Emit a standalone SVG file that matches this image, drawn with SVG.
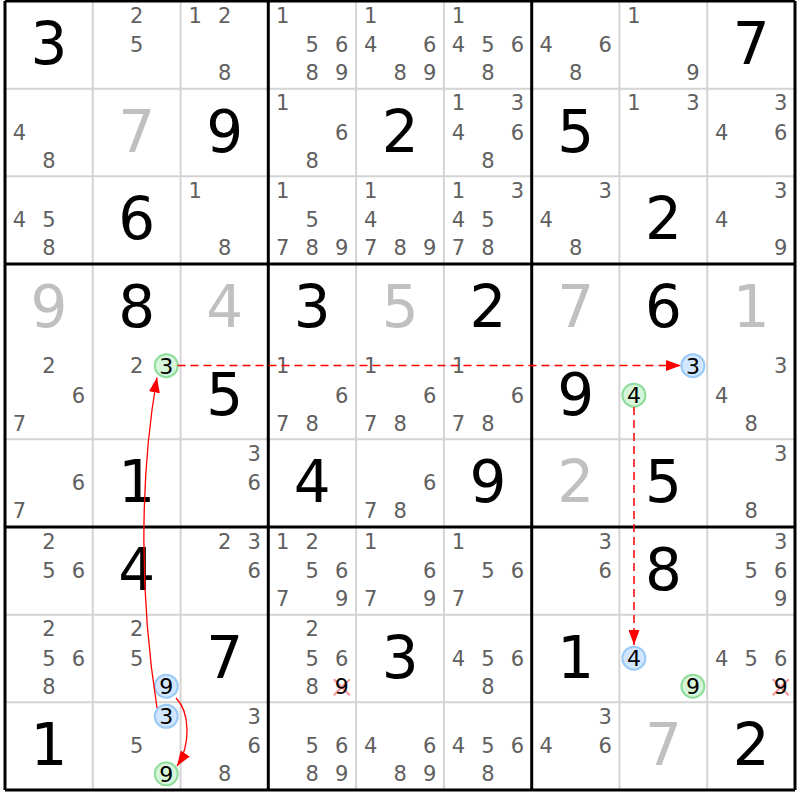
<svg xmlns="http://www.w3.org/2000/svg" width="800" height="800" viewBox="0 0 800 800">
<style>
text{font-family:"DejaVu Sans","Liberation Sans",sans-serif;text-anchor:middle}
.g{font-size:58px;fill:#000}
.s{font-size:58px;fill:#c0c0c0}
.c{font-size:21px;fill:#606060}
.k{font-size:22px;fill:#000}
.thin{stroke:#d4d4d4;stroke-width:2}
.thick{stroke:#000;stroke-width:3}
.cg{fill:#d6f5d9;stroke:#8fdc9c;stroke-width:2}
.cb{fill:#d2e7ff;stroke:#99c9f5;stroke-width:2}
.x{stroke:#f08080;stroke-width:2.2;stroke-opacity:0.8}
.dash{fill:none;stroke:#ff0000;stroke-width:1.5;stroke-dasharray:8 5}
.sol{fill:none;stroke:#ff0000;stroke-width:1.3}
</style>
<defs>
<marker id="ah" viewBox="0 0 10 10" refX="10" refY="5" markerWidth="15" markerHeight="11" markerUnits="userSpaceOnUse" orient="auto" preserveAspectRatio="none">
<path d="M0,0 L10,5 L0,10 z" fill="#ff0000"/>
</marker>
</defs>
<rect x="0" y="0" width="800" height="800" fill="#fff"/>
<g id="grid">
<path class="thin" d="M92.8,1V790M180.6,1V790M356.1,1V790M443.9,1V790M619.4,1V790M707.2,1V790M5,88.7H795M5,176.3H795M5,439.3H795M5,527H795M5,702.3H795M5,614.7H795"/>
<path class="thick" fill="none" d="M5,1V790M268.3,1V790M531.7,1V790M795,1V790M5,1H795M5,264H795M5,527H795M5,790H795"/>
</g>
<g id="cells">
<!-- row 1 -->
<g id="r1c1" transform="translate(5,1)"><text class="g" x="44" y="63">3</text></g>
<g id="r1c2" transform="translate(92.8,1)"><text class="c" x="44" y="21.5">2</text><text class="c" x="44" y="51">5</text></g>
<g id="r1c3" transform="translate(180.6,1)"><text class="c" x="14.5" y="21.5">1</text><text class="c" x="44" y="21.5">2</text><text class="c" x="44" y="79">8</text></g>
<g id="r1c4" transform="translate(268.3,1)"><text class="c" x="14.5" y="21.5">1</text><text class="c" x="44" y="51">5</text><text class="c" x="73.5" y="51">6</text><text class="c" x="44" y="79">8</text><text class="c" x="73.5" y="79">9</text></g>
<g id="r1c5" transform="translate(356.1,1)"><text class="c" x="14.5" y="21.5">1</text><text class="c" x="14.5" y="51">4</text><text class="c" x="73.5" y="51">6</text><text class="c" x="44" y="79">8</text><text class="c" x="73.5" y="79">9</text></g>
<g id="r1c6" transform="translate(443.9,1)"><text class="c" x="14.5" y="21.5">1</text><text class="c" x="14.5" y="51">4</text><text class="c" x="44" y="51">5</text><text class="c" x="73.5" y="51">6</text><text class="c" x="44" y="79">8</text></g>
<g id="r1c7" transform="translate(531.7,1)"><text class="c" x="14.5" y="51">4</text><text class="c" x="73.5" y="51">6</text><text class="c" x="44" y="79">8</text></g>
<g id="r1c8" transform="translate(619.4,1)"><text class="c" x="14.5" y="21.5">1</text><text class="c" x="73.5" y="79">9</text></g>
<g id="r1c9" transform="translate(707.2,1)"><text class="g" x="44" y="63">7</text></g>
<!-- row 2 -->
<g id="r2c1" transform="translate(5,88.7)"><text class="c" x="14.5" y="51">4</text><text class="c" x="44" y="79">8</text></g>
<g id="r2c2" transform="translate(92.8,88.7)"><text class="s" x="44" y="63">7</text></g>
<g id="r2c3" transform="translate(180.6,88.7)"><text class="g" x="44" y="63">9</text></g>
<g id="r2c4" transform="translate(268.3,88.7)"><text class="c" x="14.5" y="21.5">1</text><text class="c" x="73.5" y="51">6</text><text class="c" x="44" y="79">8</text></g>
<g id="r2c5" transform="translate(356.1,88.7)"><text class="g" x="44" y="63">2</text></g>
<g id="r2c6" transform="translate(443.9,88.7)"><text class="c" x="14.5" y="21.5">1</text><text class="c" x="73.5" y="21.5">3</text><text class="c" x="14.5" y="51">4</text><text class="c" x="73.5" y="51">6</text><text class="c" x="44" y="79">8</text></g>
<g id="r2c7" transform="translate(531.7,88.7)"><text class="g" x="44" y="63">5</text></g>
<g id="r2c8" transform="translate(619.4,88.7)"><text class="c" x="14.5" y="21.5">1</text><text class="c" x="73.5" y="21.5">3</text></g>
<g id="r2c9" transform="translate(707.2,88.7)"><text class="c" x="73.5" y="21.5">3</text><text class="c" x="14.5" y="51">4</text><text class="c" x="73.5" y="51">6</text></g>
<!-- row 3 -->
<g id="r3c1" transform="translate(5,176.3)"><text class="c" x="14.5" y="51">4</text><text class="c" x="44" y="51">5</text><text class="c" x="44" y="79">8</text></g>
<g id="r3c2" transform="translate(92.8,176.3)"><text class="g" x="44" y="63">6</text></g>
<g id="r3c3" transform="translate(180.6,176.3)"><text class="c" x="14.5" y="21.5">1</text><text class="c" x="44" y="79">8</text></g>
<g id="r3c4" transform="translate(268.3,176.3)"><text class="c" x="14.5" y="21.5">1</text><text class="c" x="44" y="51">5</text><text class="c" x="14.5" y="79">7</text><text class="c" x="44" y="79">8</text><text class="c" x="73.5" y="79">9</text></g>
<g id="r3c5" transform="translate(356.1,176.3)"><text class="c" x="14.5" y="21.5">1</text><text class="c" x="14.5" y="51">4</text><text class="c" x="14.5" y="79">7</text><text class="c" x="44" y="79">8</text><text class="c" x="73.5" y="79">9</text></g>
<g id="r3c6" transform="translate(443.9,176.3)"><text class="c" x="14.5" y="21.5">1</text><text class="c" x="73.5" y="21.5">3</text><text class="c" x="14.5" y="51">4</text><text class="c" x="44" y="51">5</text><text class="c" x="14.5" y="79">7</text><text class="c" x="44" y="79">8</text></g>
<g id="r3c7" transform="translate(531.7,176.3)"><text class="c" x="73.5" y="21.5">3</text><text class="c" x="14.5" y="51">4</text><text class="c" x="44" y="79">8</text></g>
<g id="r3c8" transform="translate(619.4,176.3)"><text class="g" x="44" y="63">2</text></g>
<g id="r3c9" transform="translate(707.2,176.3)"><text class="c" x="73.5" y="21.5">3</text><text class="c" x="14.5" y="51">4</text><text class="c" x="73.5" y="79">9</text></g>
<!-- row 4 -->
<g id="r4c1" transform="translate(5,264)"><text class="s" x="44" y="63">9</text></g>
<g id="r4c2" transform="translate(92.8,264)"><text class="g" x="44" y="63">8</text></g>
<g id="r4c3" transform="translate(180.6,264)"><text class="s" x="44" y="63">4</text></g>
<g id="r4c4" transform="translate(268.3,264)"><text class="g" x="44" y="63">3</text></g>
<g id="r4c5" transform="translate(356.1,264)"><text class="s" x="44" y="63">5</text></g>
<g id="r4c6" transform="translate(443.9,264)"><text class="g" x="44" y="63">2</text></g>
<g id="r4c7" transform="translate(531.7,264)"><text class="s" x="44" y="63">7</text></g>
<g id="r4c8" transform="translate(619.4,264)"><text class="g" x="44" y="63">6</text></g>
<g id="r4c9" transform="translate(707.2,264)"><text class="s" x="44" y="63">1</text></g>
<!-- row 5 -->
<g id="r5c1" transform="translate(5,351.7)"><text class="c" x="44" y="21.5">2</text><text class="c" x="73.5" y="51">6</text><text class="c" x="14.5" y="79">7</text></g>
<g id="r5c2" transform="translate(92.8,351.7)"><text class="c" x="44" y="21.5">2</text><circle class="cg" cx="73.5" cy="14" r="11.5"/><text class="k" x="73.5" y="22">3</text></g>
<g id="r5c3" transform="translate(180.6,351.7)"><text class="g" x="44" y="63">5</text></g>
<g id="r5c4" transform="translate(268.3,351.7)"><text class="c" x="14.5" y="21.5">1</text><text class="c" x="73.5" y="51">6</text><text class="c" x="14.5" y="79">7</text><text class="c" x="44" y="79">8</text></g>
<g id="r5c5" transform="translate(356.1,351.7)"><text class="c" x="14.5" y="21.5">1</text><text class="c" x="73.5" y="51">6</text><text class="c" x="14.5" y="79">7</text><text class="c" x="44" y="79">8</text></g>
<g id="r5c6" transform="translate(443.9,351.7)"><text class="c" x="14.5" y="21.5">1</text><text class="c" x="73.5" y="51">6</text><text class="c" x="14.5" y="79">7</text><text class="c" x="44" y="79">8</text></g>
<g id="r5c7" transform="translate(531.7,351.7)"><text class="g" x="44" y="63">9</text></g>
<g id="r5c8" transform="translate(619.4,351.7)"><circle class="cb" cx="73.5" cy="14" r="11.5"/><text class="k" x="73.5" y="22">3</text><circle class="cg" cx="14.5" cy="43.5" r="11.5"/><text class="k" x="14.5" y="51.5">4</text></g>
<g id="r5c9" transform="translate(707.2,351.7)"><text class="c" x="73.5" y="21.5">3</text><text class="c" x="14.5" y="51">4</text><text class="c" x="44" y="79">8</text></g>
<!-- row 6 -->
<g id="r6c1" transform="translate(5,439.3)"><text class="c" x="73.5" y="51">6</text><text class="c" x="14.5" y="79">7</text></g>
<g id="r6c2" transform="translate(92.8,439.3)"><text class="g" x="44" y="63">1</text></g>
<g id="r6c3" transform="translate(180.6,439.3)"><text class="c" x="73.5" y="21.5">3</text><text class="c" x="73.5" y="51">6</text></g>
<g id="r6c4" transform="translate(268.3,439.3)"><text class="g" x="44" y="63">4</text></g>
<g id="r6c5" transform="translate(356.1,439.3)"><text class="c" x="73.5" y="51">6</text><text class="c" x="14.5" y="79">7</text><text class="c" x="44" y="79">8</text></g>
<g id="r6c6" transform="translate(443.9,439.3)"><text class="g" x="44" y="63">9</text></g>
<g id="r6c7" transform="translate(531.7,439.3)"><text class="s" x="44" y="63">2</text></g>
<g id="r6c8" transform="translate(619.4,439.3)"><text class="g" x="44" y="63">5</text></g>
<g id="r6c9" transform="translate(707.2,439.3)"><text class="c" x="73.5" y="21.5">3</text><text class="c" x="44" y="79">8</text></g>
<!-- row 7 -->
<g id="r7c1" transform="translate(5,527)"><text class="c" x="44" y="21.5">2</text><text class="c" x="44" y="51">5</text><text class="c" x="73.5" y="51">6</text></g>
<g id="r7c2" transform="translate(92.8,527)"><text class="g" x="44" y="63">4</text></g>
<g id="r7c3" transform="translate(180.6,527)"><text class="c" x="44" y="21.5">2</text><text class="c" x="73.5" y="21.5">3</text><text class="c" x="73.5" y="51">6</text></g>
<g id="r7c4" transform="translate(268.3,527)"><text class="c" x="14.5" y="21.5">1</text><text class="c" x="44" y="21.5">2</text><text class="c" x="44" y="51">5</text><text class="c" x="73.5" y="51">6</text><text class="c" x="14.5" y="79">7</text><text class="c" x="73.5" y="79">9</text></g>
<g id="r7c5" transform="translate(356.1,527)"><text class="c" x="14.5" y="21.5">1</text><text class="c" x="73.5" y="51">6</text><text class="c" x="14.5" y="79">7</text><text class="c" x="73.5" y="79">9</text></g>
<g id="r7c6" transform="translate(443.9,527)"><text class="c" x="14.5" y="21.5">1</text><text class="c" x="44" y="51">5</text><text class="c" x="73.5" y="51">6</text><text class="c" x="14.5" y="79">7</text></g>
<g id="r7c7" transform="translate(531.7,527)"><text class="c" x="73.5" y="21.5">3</text><text class="c" x="73.5" y="51">6</text></g>
<g id="r7c8" transform="translate(619.4,527)"><text class="g" x="44" y="63">8</text></g>
<g id="r7c9" transform="translate(707.2,527)"><text class="c" x="73.5" y="21.5">3</text><text class="c" x="44" y="51">5</text><text class="c" x="73.5" y="51">6</text><text class="c" x="73.5" y="79">9</text></g>
<!-- row 8 -->
<g id="r8c1" transform="translate(5,614.7)"><text class="c" x="44" y="21.5">2</text><text class="c" x="44" y="51">5</text><text class="c" x="73.5" y="51">6</text><text class="c" x="44" y="79">8</text></g>
<g id="r8c2" transform="translate(92.8,614.7)"><text class="c" x="44" y="21.5">2</text><text class="c" x="44" y="51">5</text><circle class="cb" cx="73.5" cy="71.5" r="11.5"/><text class="k" x="73.5" y="79.5">9</text></g>
<g id="r8c3" transform="translate(180.6,614.7)"><text class="g" x="44" y="63">7</text></g>
<g id="r8c4" transform="translate(268.3,614.7)"><text class="c" x="44" y="21.5">2</text><text class="c" x="44" y="51">5</text><text class="c" x="73.5" y="51">6</text><text class="c" x="44" y="79">8</text><path class="x" d="M65.5,64.5L81.5,80.5M81.5,64.5L65.5,80.5"/><text class="k" x="73.5" y="79.5">9</text></g>
<g id="r8c5" transform="translate(356.1,614.7)"><text class="g" x="44" y="63">3</text></g>
<g id="r8c6" transform="translate(443.9,614.7)"><text class="c" x="14.5" y="51">4</text><text class="c" x="44" y="51">5</text><text class="c" x="73.5" y="51">6</text><text class="c" x="44" y="79">8</text></g>
<g id="r8c7" transform="translate(531.7,614.7)"><text class="g" x="44" y="63">1</text></g>
<g id="r8c8" transform="translate(619.4,614.7)"><circle class="cb" cx="14.5" cy="43.5" r="11.5"/><text class="k" x="14.5" y="51.5">4</text><circle class="cg" cx="73.5" cy="71.5" r="11.5"/><text class="k" x="73.5" y="79.5">9</text></g>
<g id="r8c9" transform="translate(707.2,614.7)"><text class="c" x="14.5" y="51">4</text><text class="c" x="44" y="51">5</text><text class="c" x="73.5" y="51">6</text><path class="x" d="M65.5,64.5L81.5,80.5M81.5,64.5L65.5,80.5"/><text class="k" x="73.5" y="79.5">9</text></g>
<!-- row 9 -->
<g id="r9c1" transform="translate(5,702.3)"><text class="g" x="44" y="63">1</text></g>
<g id="r9c2" transform="translate(92.8,702.3)"><circle class="cb" cx="73.5" cy="14" r="11.5"/><text class="k" x="73.5" y="22">3</text><text class="c" x="44" y="51">5</text><circle class="cg" cx="73.5" cy="71.5" r="11.5"/><text class="k" x="73.5" y="79.5">9</text></g>
<g id="r9c3" transform="translate(180.6,702.3)"><text class="c" x="73.5" y="21.5">3</text><text class="c" x="73.5" y="51">6</text><text class="c" x="44" y="79">8</text></g>
<g id="r9c4" transform="translate(268.3,702.3)"><text class="c" x="44" y="51">5</text><text class="c" x="73.5" y="51">6</text><text class="c" x="44" y="79">8</text><text class="c" x="73.5" y="79">9</text></g>
<g id="r9c5" transform="translate(356.1,702.3)"><text class="c" x="14.5" y="51">4</text><text class="c" x="73.5" y="51">6</text><text class="c" x="44" y="79">8</text><text class="c" x="73.5" y="79">9</text></g>
<g id="r9c6" transform="translate(443.9,702.3)"><text class="c" x="14.5" y="51">4</text><text class="c" x="44" y="51">5</text><text class="c" x="73.5" y="51">6</text><text class="c" x="44" y="79">8</text></g>
<g id="r9c7" transform="translate(531.7,702.3)"><text class="c" x="73.5" y="21.5">3</text><text class="c" x="14.5" y="51">4</text><text class="c" x="73.5" y="51">6</text></g>
<g id="r9c8" transform="translate(619.4,702.3)"><text class="s" x="44" y="63">7</text></g>
<g id="r9c9" transform="translate(707.2,702.3)"><text class="g" x="44" y="63">2</text></g>
</g>
<g id="connectors">
<path class="dash" d="M177.5,365.5H681" marker-end="url(#ah)"/>
<path class="dash" d="M634,407V645" marker-end="url(#ah)"/>
<path class="sol" d="M157,708C140,600 139,480 157,377.5" marker-end="url(#ah)"/>
<path class="sol" d="M176,698C190,712 191,745 177,766" marker-end="url(#ah)"/>
</g>
</svg>
